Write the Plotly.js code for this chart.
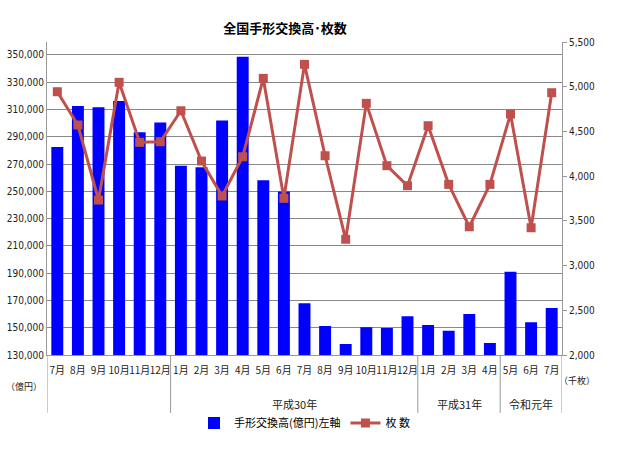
<!DOCTYPE html>
<html>
<head>
<meta charset="utf-8">
<script src="https://cdn.plot.ly/plotly-3.0.1.min.js"></script>
<style>
  body { margin: 0; background: #fff; }
  #chart { width: 640px; height: 450px; }
</style>
</head>
<body>
<div id="chart"></div>
<script>
// months along the bottom, grouped by era year
var months = ["7月", "8月", "9月", "10月", "11月", "12月",
  "1月", "2月", "3月", "4月", "5月", "6月", "7月", "8月", "9月", "10月", "11月", "12月",
  "1月", "2月", "3月", "4月",
  "5月", "6月", "7月"];
var groups = ["", "平成30年", "平成31年", "令和元年"];
var groupSizes = [6, 12, 4, 3];

// 手形交換高 (億円), left axis
var amount = [282500, 312600, 311600, 316300, 293300, 300400,
  268800, 267600, 302000, 348700, 258100, 249800, 167900, 151300, 138100, 150300, 149800, 158400,
  152000, 147800, 160100, 138800,
  191100, 154000, 164500];

// 枚数 (千枚), right axis
var count = [4944, 4572, 3733, 5049, 4378, 4385,
  4731, 4169, 3778, 4217, 5093, 3752, 5250, 4228, 3294, 4814, 4117, 3893,
  4564, 3908, 3434, 3908,
  4694, 3423, 4933];

var font = "'Liberation Sans Narrow', 'DejaVu Sans Condensed', 'Noto Sans CJK JP', sans-serif";
var jpFont = "'Noto Sans CJK JP', sans-serif";

var idx = months.map(function (m, i) { return i; });

var barTrace = {
  x: idx,
  y: amount,
  type: "bar",
  name: "手形交換高(億円)左軸",
  marker: { color: "#0000ff" },
  yaxis: "y"
};

var lineTrace = {
  x: idx,
  y: count,
  type: "scatter",
  mode: "lines+markers",
  name: "枚 数",
  line: { color: "#c0504d", width: 3 },
  marker: { symbol: "square", size: 9, color: "#c0504d" },
  yaxis: "y2"
};

// group separators and group labels under the month ticks
var shapes = [];
var annotations = [];
var pos = -0.5;
shapes.push({ type: "line", xref: "x", yref: "paper", x0: pos, x1: pos, y0: 0, y1: -0.185,
  line: { color: "#999", width: 1 } });
for (var g = 0; g < groups.length; g++) {
  var end = pos + groupSizes[g];
  shapes.push({ type: "line", xref: "x", yref: "paper", x0: end, x1: end, y0: 0, y1: -0.185,
    line: { color: "#999", width: 1 } });
  if (groups[g]) {
    annotations.push({ text: groups[g], xref: "x", yref: "paper", x: (pos + end) / 2, y: -0.155,
      showarrow: false, xanchor: "center", yanchor: "middle",
      font: { family: jpFont, size: 11, color: "#222" } });
  }
  pos = end;
}

annotations.push({ text: "（億円）", xref: "paper", yref: "paper", x: -0.045, y: -0.1,
  showarrow: false, xanchor: "center", yanchor: "middle",
  font: { family: jpFont, size: 9, color: "#222" } });
annotations.push({ text: "（千枚）", xref: "paper", yref: "paper", x: 1.03, y: -0.08,
  showarrow: false, xanchor: "center", yanchor: "middle",
  font: { family: jpFont, size: 9, color: "#222" } });

var layout = {
  width: 640,
  height: 450,
  margin: { l: 47, r: 78, t: 42, b: 95 },
  paper_bgcolor: "#fff",
  plot_bgcolor: "#fff",
  bargap: 0.42,
  showlegend: true,
  title: {
    text: "<b>全国手形交換高･枚数</b>",
    xref: "paper", x: 0.462, xanchor: "center",
    yref: "container", y: 0.936, yanchor: "middle",
    font: { family: jpFont, size: 13, color: "#000" }
  },
  xaxis: {
    tickmode: "array",
    tickvals: idx,
    ticktext: months,
    tickangle: 0,
    ticklabelstandoff: 6,
    range: [-0.5, months.length - 0.5],
    showline: true,
    linecolor: "#999",
    ticks: "",
    showgrid: false,
    zeroline: false,
    tickfont: { family: jpFont, size: 10, color: "#222" }
  },
  yaxis: {
    range: [130000, 359500],
    tick0: 130000,
    dtick: 20000,
    tickformat: ",d",
    showline: true,
    linecolor: "#999",
    gridcolor: "#888",
    zeroline: false,
    ticks: "",
    tickfont: { family: font, size: 10, color: "#222" }
  },
  yaxis2: {
    overlaying: "y",
    side: "right",
    range: [2000, 5500],
    tick0: 2000,
    dtick: 500,
    tickformat: ",d",
    showline: true,
    linecolor: "#999",
    showgrid: false,
    zeroline: false,
    ticks: "outside",
    ticklen: 4,
    tickcolor: "#999",
    tickfont: { family: font, size: 10, color: "#222" }
  },
  legend: {
    orientation: "h",
    x: 0.5, xanchor: "center",
    y: -0.217, yanchor: "middle",
    font: { family: jpFont, size: 11, color: "#000" },
    itemwidth: 30
  },
  shapes: shapes,
  annotations: annotations
};

Plotly.newPlot("chart", [barTrace, lineTrace], layout, { displayModeBar: false });
</script>
</body>
</html>
